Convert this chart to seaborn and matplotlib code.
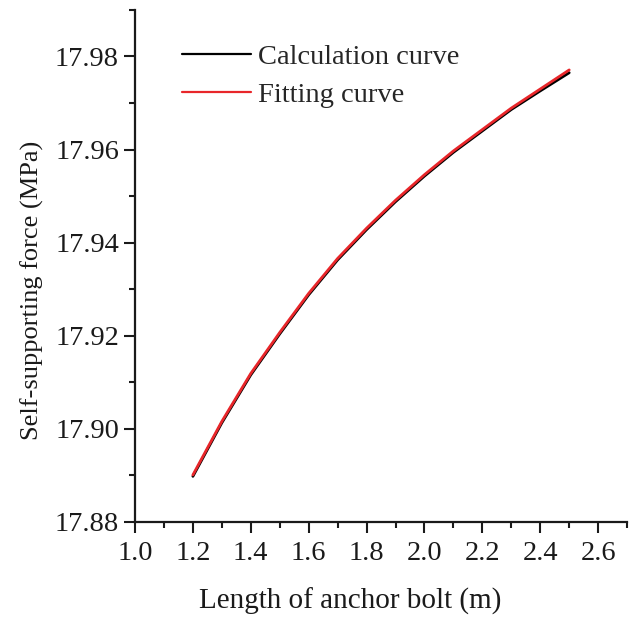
import matplotlib
matplotlib.use("Agg")
import matplotlib.pyplot as plt
from matplotlib.ticker import MultipleLocator
import seaborn as sns
import pandas as pd

bolt_length = [1.2, 1.3, 1.4, 1.5, 1.6, 1.7, 1.8, 1.9, 2.0, 2.1, 2.2, 2.3, 2.4, 2.5]
calc_force = [17.8898, 17.9013, 17.9116, 17.9204, 17.9288, 17.9363, 17.9428,
              17.9488, 17.9543, 17.9594, 17.9640, 17.9686, 17.9726, 17.9765]
fit_force = [17.8901, 17.9016, 17.9119, 17.9207, 17.9291, 17.9366, 17.9431,
             17.9491, 17.9546, 17.9597, 17.9643, 17.9689, 17.9730, 17.9771]
series_names = ["Calculation curve", "Fitting curve"]

df = pd.DataFrame({
    "x": bolt_length * 2,
    "y": calc_force + fit_force,
    "series": [series_names[0]] * len(bolt_length) + [series_names[1]] * len(bolt_length),
})

sns.set_style("ticks")
plt.rcParams["font.family"] = ["Liberation Serif", "DejaVu Serif"]

fig = plt.figure(figsize=(6.29, 6.17), dpi=100)
ax = fig.add_axes([0.2146, 0.154, 0.7824, 0.830])

sns.lineplot(data=df, x="x", y="y", hue="series",
             palette={series_names[0]: "#000000", series_names[1]: "#e8262a"},
             linewidth=2.0, ax=ax, legend=True)

ax.set_xlim(1.0, 2.7)
ax.set_ylim(17.88, 17.99)
ax.xaxis.set_minor_locator(MultipleLocator(0.1))
ax.yaxis.set_minor_locator(MultipleLocator(0.01))
ax.set_xticks([1.0, 1.2, 1.4, 1.6, 1.8, 2.0, 2.2, 2.4, 2.6])
ax.set_xticklabels(["1.0", "1.2", "1.4", "1.6", "1.8", "2.0", "2.2", "2.4", "2.6"])
ax.set_yticks([17.88, 17.90, 17.92, 17.94, 17.96, 17.98])
ax.set_yticklabels(["17.88", "17.90", "17.92", "17.94", "17.96", "17.98"])

for s in ["top", "right"]:
    ax.spines[s].set_visible(False)
for s in ["left", "bottom"]:
    ax.spines[s].set_linewidth(1.6)
    ax.spines[s].set_color("#1a1a1a")

ax.tick_params(axis="both", which="major", direction="out", length=8, width=1.5,
               labelsize=20.5, colors="#1a1a1a")
ax.tick_params(axis="both", which="minor", direction="out", length=4.5, width=1.5,
               colors="#1a1a1a")
ax.tick_params(axis="y", which="major", pad=3.5)
ax.tick_params(axis="x", which="major", pad=6)

ax.set_xlabel("Length of anchor bolt (m)", fontsize=21, color="#1a1a1a")
ax.set_ylabel("Self-supporting force (MPa)", fontsize=19, color="#1a1a1a")
ax.xaxis.set_label_coords(0.437, -0.129)
ax.yaxis.set_label_coords(-0.185, 0.453)

leg = ax.legend(loc="upper left", bbox_to_anchor=(0.056, 0.973), frameon=False,
                fontsize=20.5, handlelength=2.4, handletextpad=0.25, labelspacing=0.43,
                borderaxespad=0.3)
for line in leg.get_lines():
    line.set_linewidth(1.6)

fig.savefig("out.png", dpi=100)
